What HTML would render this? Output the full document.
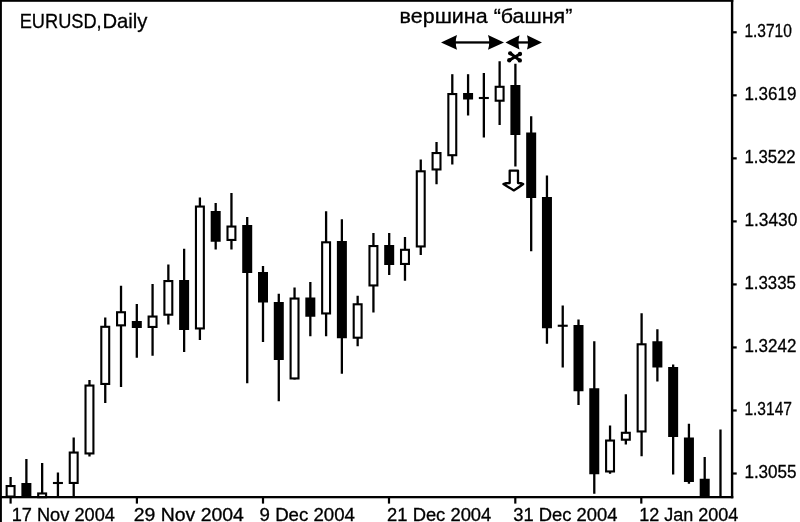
<!DOCTYPE html>
<html lang="ru"><head><meta charset="utf-8"><title>EURUSD, Daily</title>
<style>
html,body{margin:0;padding:0;background:#fff;}
body{width:800px;height:522px;overflow:hidden;}
svg{display:block;}
text{font-family:"Liberation Sans",sans-serif;fill:#000;stroke:#000;stroke-width:0.3px;}
</style></head><body>
<svg width="800" height="522" viewBox="0 0 800 522">
<rect x="0" y="0" width="800" height="522" fill="#fff"/>
<!-- frame -->
<rect x="0" y="0" width="733.3" height="1.8" fill="#000"/>
<rect x="0" y="0" width="1.9" height="522" fill="#000"/>
<rect x="730.9" y="0" width="2.4" height="498.3" fill="#000"/>
<line x1="732" y1="32.30" x2="736.7" y2="32.30" stroke="#000" stroke-width="2.2"/>
<text x="744.4" y="36.70" font-size="17.5" textLength="47.5" lengthAdjust="spacingAndGlyphs">1.3710</text>
<line x1="732" y1="95.33" x2="736.7" y2="95.33" stroke="#000" stroke-width="2.2"/>
<text x="744.4" y="99.80" font-size="17.5" textLength="52.0" lengthAdjust="spacingAndGlyphs">1.3619</text>
<line x1="732" y1="158.36" x2="736.7" y2="158.36" stroke="#000" stroke-width="2.2"/>
<text x="744.4" y="162.90" font-size="17.5" textLength="51.3" lengthAdjust="spacingAndGlyphs">1.3522</text>
<line x1="732" y1="221.39" x2="736.7" y2="221.39" stroke="#000" stroke-width="2.2"/>
<text x="744.4" y="226.00" font-size="17.5" textLength="53.0" lengthAdjust="spacingAndGlyphs">1.3430</text>
<line x1="732" y1="284.42" x2="736.7" y2="284.42" stroke="#000" stroke-width="2.2"/>
<text x="744.4" y="289.10" font-size="17.5" textLength="51.5" lengthAdjust="spacingAndGlyphs">1.3335</text>
<line x1="732" y1="347.45" x2="736.7" y2="347.45" stroke="#000" stroke-width="2.2"/>
<text x="744.4" y="352.20" font-size="17.5" textLength="52.0" lengthAdjust="spacingAndGlyphs">1.3242</text>
<line x1="732" y1="410.48" x2="736.7" y2="410.48" stroke="#000" stroke-width="2.2"/>
<text x="744.4" y="415.30" font-size="17.5" textLength="47.6" lengthAdjust="spacingAndGlyphs">1.3147</text>
<line x1="732" y1="473.51" x2="736.7" y2="473.51" stroke="#000" stroke-width="2.2"/>
<text x="744.4" y="478.40" font-size="17.5" textLength="52.2" lengthAdjust="spacingAndGlyphs">1.3055</text>
<line x1="10.6" y1="497" x2="10.6" y2="503.6" stroke="#000" stroke-width="2.2"/>
<text x="11.7" y="520.5" font-size="17.5" textLength="103.2" lengthAdjust="spacingAndGlyphs">17 Nov 2004</text>
<line x1="136.9" y1="497" x2="136.9" y2="503.6" stroke="#000" stroke-width="2.2"/>
<text x="133.79999999999998" y="520.5" font-size="17.5" textLength="110.1" lengthAdjust="spacingAndGlyphs">29 Nov 2004</text>
<line x1="263" y1="497" x2="263" y2="503.6" stroke="#000" stroke-width="2.2"/>
<text x="259.59999999999997" y="520.5" font-size="17.5" textLength="95.4" lengthAdjust="spacingAndGlyphs">9 Dec 2004</text>
<line x1="389" y1="497" x2="389" y2="503.6" stroke="#000" stroke-width="2.2"/>
<text x="387.09999999999997" y="520.5" font-size="17.5" textLength="104.2" lengthAdjust="spacingAndGlyphs">21 Dec 2004</text>
<line x1="515.3" y1="497" x2="515.3" y2="503.6" stroke="#000" stroke-width="2.2"/>
<text x="513.2" y="520.5" font-size="17.5" textLength="104.2" lengthAdjust="spacingAndGlyphs">31 Dec 2004</text>
<line x1="641.3" y1="497" x2="641.3" y2="503.6" stroke="#000" stroke-width="2.2"/>
<text x="639.2" y="520.5" font-size="17.5" textLength="99.2" lengthAdjust="spacingAndGlyphs">12 Jan 2004</text>
<!-- candles -->
<line x1="10.60" y1="477.0" x2="10.60" y2="497.0" stroke="#000" stroke-width="2.3"/>
<rect x="6.65" y="486.05" width="7.90" height="10.50" fill="#fff" stroke="#000" stroke-width="2.1"/>
<line x1="26.38" y1="459.0" x2="26.38" y2="497.0" stroke="#000" stroke-width="2.3"/>
<rect x="21.38" y="483.0" width="10.0" height="14.00" fill="#000"/>
<line x1="42.15" y1="463.0" x2="42.15" y2="497.0" stroke="#000" stroke-width="2.3"/>
<rect x="38.20" y="493.45" width="7.90" height="3.70" fill="#fff" stroke="#000" stroke-width="2.1"/>
<line x1="57.93" y1="472.5" x2="57.93" y2="497.0" stroke="#000" stroke-width="2.3"/>
<line x1="52.93" y1="483.0" x2="62.93" y2="483.0" stroke="#000" stroke-width="2.1"/>
<line x1="73.70" y1="437.5" x2="73.70" y2="497.0" stroke="#000" stroke-width="2.3"/>
<rect x="69.75" y="452.55" width="7.90" height="30.40" fill="#fff" stroke="#000" stroke-width="2.1"/>
<line x1="89.47" y1="380.0" x2="89.47" y2="456.5" stroke="#000" stroke-width="2.3"/>
<rect x="85.52" y="385.55" width="7.90" height="67.90" fill="#fff" stroke="#000" stroke-width="2.1"/>
<line x1="105.25" y1="317.5" x2="105.25" y2="403.0" stroke="#000" stroke-width="2.3"/>
<rect x="101.30" y="326.80" width="7.90" height="57.15" fill="#fff" stroke="#000" stroke-width="2.1"/>
<line x1="121.02" y1="285.75" x2="121.02" y2="387.0" stroke="#000" stroke-width="2.3"/>
<rect x="117.07" y="312.25" width="7.90" height="13.10" fill="#fff" stroke="#000" stroke-width="2.1"/>
<line x1="136.80" y1="304.0" x2="136.80" y2="357.75" stroke="#000" stroke-width="2.3"/>
<rect x="131.80" y="321.0" width="10.0" height="7.00" fill="#000"/>
<line x1="152.57" y1="284.0" x2="152.57" y2="355.75" stroke="#000" stroke-width="2.3"/>
<rect x="148.62" y="316.55" width="7.90" height="10.40" fill="#fff" stroke="#000" stroke-width="2.1"/>
<line x1="168.35" y1="264.5" x2="168.35" y2="324.5" stroke="#000" stroke-width="2.3"/>
<rect x="164.40" y="281.05" width="7.90" height="33.65" fill="#fff" stroke="#000" stroke-width="2.1"/>
<line x1="184.12" y1="248.75" x2="184.12" y2="352.0" stroke="#000" stroke-width="2.3"/>
<rect x="179.12" y="280.0" width="10.0" height="50.00" fill="#000"/>
<line x1="199.90" y1="197.5" x2="199.90" y2="340.0" stroke="#000" stroke-width="2.3"/>
<rect x="195.95" y="206.55" width="7.90" height="121.90" fill="#fff" stroke="#000" stroke-width="2.1"/>
<line x1="215.68" y1="203.0" x2="215.68" y2="249.5" stroke="#000" stroke-width="2.3"/>
<rect x="210.68" y="211.0" width="10.0" height="30.75" fill="#000"/>
<line x1="231.45" y1="193.0" x2="231.45" y2="249.5" stroke="#000" stroke-width="2.3"/>
<rect x="227.50" y="226.55" width="7.90" height="13.40" fill="#fff" stroke="#000" stroke-width="2.1"/>
<line x1="247.22" y1="217.0" x2="247.22" y2="383.25" stroke="#000" stroke-width="2.3"/>
<rect x="242.22" y="225.0" width="10.0" height="48.00" fill="#000"/>
<line x1="263.00" y1="266.0" x2="263.00" y2="342.0" stroke="#000" stroke-width="2.3"/>
<rect x="258.00" y="272.0" width="10.0" height="30.50" fill="#000"/>
<line x1="278.78" y1="293.75" x2="278.78" y2="401.25" stroke="#000" stroke-width="2.3"/>
<rect x="273.78" y="302.0" width="10.0" height="58.00" fill="#000"/>
<line x1="294.55" y1="287.5" x2="294.55" y2="379.5" stroke="#000" stroke-width="2.3"/>
<rect x="290.60" y="298.55" width="7.90" height="79.90" fill="#fff" stroke="#000" stroke-width="2.1"/>
<line x1="310.33" y1="282.0" x2="310.33" y2="336.25" stroke="#000" stroke-width="2.3"/>
<rect x="305.33" y="297.5" width="10.0" height="19.25" fill="#000"/>
<line x1="326.10" y1="211.25" x2="326.10" y2="336.25" stroke="#000" stroke-width="2.3"/>
<rect x="322.15" y="242.30" width="7.90" height="71.15" fill="#fff" stroke="#000" stroke-width="2.1"/>
<line x1="341.88" y1="219.25" x2="341.88" y2="373.75" stroke="#000" stroke-width="2.3"/>
<rect x="336.88" y="241.0" width="10.0" height="97.25" fill="#000"/>
<line x1="357.65" y1="295.75" x2="357.65" y2="346.25" stroke="#000" stroke-width="2.3"/>
<rect x="353.70" y="304.30" width="7.90" height="33.40" fill="#fff" stroke="#000" stroke-width="2.1"/>
<line x1="373.43" y1="233.0" x2="373.43" y2="312.5" stroke="#000" stroke-width="2.3"/>
<rect x="369.48" y="246.05" width="7.90" height="39.40" fill="#fff" stroke="#000" stroke-width="2.1"/>
<line x1="389.20" y1="233.0" x2="389.20" y2="275.0" stroke="#000" stroke-width="2.3"/>
<rect x="384.20" y="245.0" width="10.0" height="20.00" fill="#000"/>
<line x1="404.98" y1="237.0" x2="404.98" y2="280.75" stroke="#000" stroke-width="2.3"/>
<rect x="401.03" y="249.80" width="7.90" height="14.15" fill="#fff" stroke="#000" stroke-width="2.1"/>
<line x1="420.75" y1="159.5" x2="420.75" y2="255.0" stroke="#000" stroke-width="2.3"/>
<rect x="416.80" y="171.30" width="7.90" height="75.15" fill="#fff" stroke="#000" stroke-width="2.1"/>
<line x1="436.53" y1="142.0" x2="436.53" y2="184.25" stroke="#000" stroke-width="2.3"/>
<rect x="432.58" y="153.05" width="7.90" height="16.40" fill="#fff" stroke="#000" stroke-width="2.1"/>
<line x1="452.30" y1="74.2" x2="452.30" y2="164.5" stroke="#000" stroke-width="2.3"/>
<rect x="448.35" y="94.05" width="7.90" height="61.15" fill="#fff" stroke="#000" stroke-width="2.1"/>
<line x1="468.08" y1="74.2" x2="468.08" y2="115.5" stroke="#000" stroke-width="2.3"/>
<rect x="463.08" y="93.0" width="10.0" height="6.50" fill="#000"/>
<line x1="483.85" y1="73.0" x2="483.85" y2="137.5" stroke="#000" stroke-width="2.3"/>
<line x1="478.85" y1="98.0" x2="488.85" y2="98.0" stroke="#000" stroke-width="2.1"/>
<line x1="499.63" y1="61.25" x2="499.63" y2="125.0" stroke="#000" stroke-width="2.3"/>
<rect x="495.68" y="86.80" width="7.90" height="13.90" fill="#fff" stroke="#000" stroke-width="2.1"/>
<line x1="515.40" y1="63.75" x2="515.40" y2="166.5" stroke="#000" stroke-width="2.3"/>
<rect x="510.40" y="85.0" width="10.0" height="50.00" fill="#000"/>
<line x1="531.18" y1="116.25" x2="531.18" y2="251.25" stroke="#000" stroke-width="2.3"/>
<rect x="526.18" y="132.5" width="10.0" height="65.50" fill="#000"/>
<line x1="546.95" y1="175.5" x2="546.95" y2="343.75" stroke="#000" stroke-width="2.3"/>
<rect x="541.95" y="197.0" width="10.0" height="131.25" fill="#000"/>
<line x1="562.73" y1="305.5" x2="562.73" y2="367.5" stroke="#000" stroke-width="2.3"/>
<line x1="557.73" y1="325.75" x2="567.73" y2="325.75" stroke="#000" stroke-width="2.1"/>
<line x1="578.50" y1="319.5" x2="578.50" y2="405.0" stroke="#000" stroke-width="2.3"/>
<rect x="573.50" y="325.0" width="10.0" height="66.25" fill="#000"/>
<line x1="594.28" y1="341.25" x2="594.28" y2="493.75" stroke="#000" stroke-width="2.3"/>
<rect x="589.28" y="388.25" width="10.0" height="86.00" fill="#000"/>
<line x1="610.05" y1="425.5" x2="610.05" y2="473.75" stroke="#000" stroke-width="2.3"/>
<rect x="606.10" y="440.55" width="7.90" height="30.90" fill="#fff" stroke="#000" stroke-width="2.1"/>
<line x1="625.83" y1="394.25" x2="625.83" y2="444.5" stroke="#000" stroke-width="2.3"/>
<rect x="621.88" y="432.80" width="7.90" height="6.90" fill="#fff" stroke="#000" stroke-width="2.1"/>
<line x1="641.60" y1="313.25" x2="641.60" y2="456.25" stroke="#000" stroke-width="2.3"/>
<rect x="637.65" y="344.30" width="7.90" height="87.15" fill="#fff" stroke="#000" stroke-width="2.1"/>
<line x1="657.38" y1="329.25" x2="657.38" y2="381.5" stroke="#000" stroke-width="2.3"/>
<rect x="652.38" y="341.25" width="10.0" height="26.25" fill="#000"/>
<line x1="673.15" y1="364.5" x2="673.15" y2="474.5" stroke="#000" stroke-width="2.3"/>
<rect x="668.15" y="367.0" width="10.0" height="70.00" fill="#000"/>
<line x1="688.93" y1="423.75" x2="688.93" y2="483.75" stroke="#000" stroke-width="2.3"/>
<rect x="683.93" y="437.5" width="10.0" height="44.50" fill="#000"/>
<line x1="704.70" y1="457.0" x2="704.70" y2="497.0" stroke="#000" stroke-width="2.3"/>
<rect x="699.70" y="478.75" width="10.0" height="18.25" fill="#000"/>
<line x1="720.48" y1="429.5" x2="720.48" y2="497.0" stroke="#000" stroke-width="2.3"/>
<!-- bottom axis -->
<rect x="0" y="496" width="733.3" height="2.3" fill="#000"/>
<!-- title -->
<text y="27.9" font-size="20.6"><tspan x="19.7" textLength="82" lengthAdjust="spacingAndGlyphs">EURUSD,</tspan><tspan x="102.4" textLength="45" lengthAdjust="spacingAndGlyphs">Daily</tspan></text>
<text x="399.6" y="23.35" font-size="19.3" textLength="172.8" lengthAdjust="spacingAndGlyphs">вершина “башня”</text>
<!-- annotation arrows -->
<g fill="#000" stroke="none">
<rect x="452" y="41.3" width="42" height="2.3"/>
<path d="M441 42.4 L457 35 Q454.5 42.4 457 49.8 Z"/>
<path d="M504 42.4 L488 35 Q490.5 42.4 488 49.8 Z"/>
<rect x="514" y="41.3" width="18" height="2.3"/>
<path d="M505.5 42.4 L519.5 35.2 Q517.5 42.4 519.5 49.6 Z"/>
<path d="M542 42.4 L527 35.2 Q529 42.4 527 49.6 Z"/>
</g>
<!-- X mark -->
<g stroke="#000" stroke-width="3" stroke-linecap="round" fill="none">
<path d="M510.2 53.3 L519.8 60.4"/>
<path d="M520 54 L509.3 60.3"/>
</g>
<g fill="#000"><circle cx="510.2" cy="53.3" r="2.15"/><circle cx="519.8" cy="60.4" r="2.2"/><circle cx="520" cy="54" r="2.15"/><circle cx="509.3" cy="60.3" r="2.2"/></g>
<!-- down arrow -->
<path d="M509.7 183 V170.6 H518 V183 Q521 182.9 523.2 184 Q518.6 187.6 513.8 190.4 Q509 187.6 503.4 184 Q506 182.9 509.7 183 Z" fill="#fff" stroke="#000" stroke-width="2.3" stroke-linejoin="round"/>
</svg>
</body></html>
